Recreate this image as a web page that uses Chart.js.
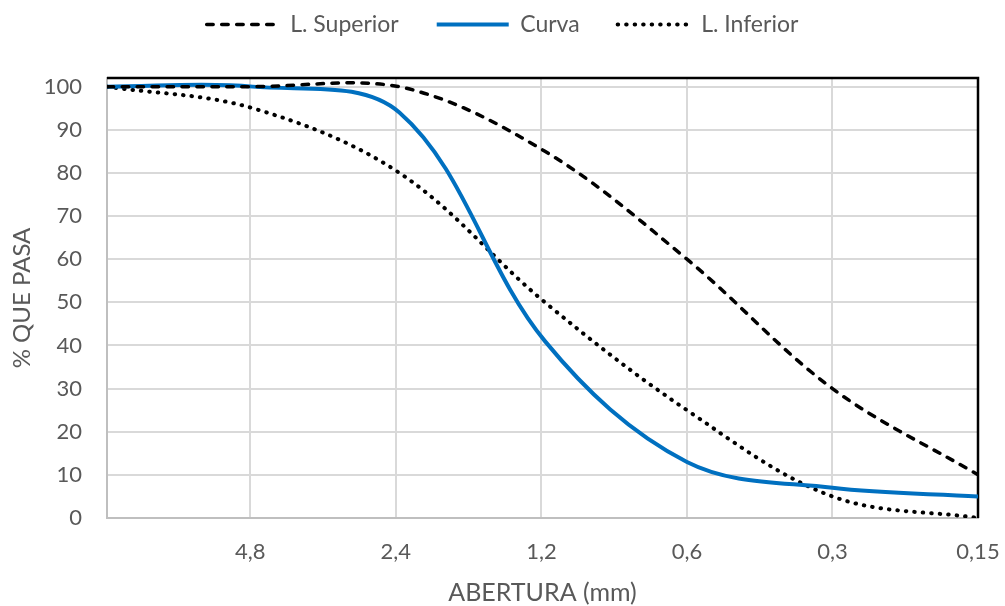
<!DOCTYPE html>
<html>
<head>
<meta charset="utf-8">
<script src="https://cdn.jsdelivr.net/npm/chart.js@4/dist/chart.umd.min.js"></script>
<style>
  html, body { margin: 0; padding: 0; background: #ffffff; }
  #wrap { width: 1005px; height: 606px; position: relative; }
</style>
</head>
<body>
<div id="wrap"><canvas id="granulometria"></canvas></div>
<script>
// Sieve openings (mm) and percentage passing for each series
const aberturas      = [9.5, 4.75, 2.36, 1.18, 0.6, 0.3, 0.15];
const limiteSuperior = [100, 100, 100, 85, 60, 30, 10];
const curva          = [100, 100, 94, 41, 13, 7, 5];
const limiteInferior = [100, 95, 80, 50, 25, 5, 0];

// Axis tick labels
const xTicks = [4.8, 2.4, 1.2, 0.6, 0.3, 0.15];
const yTicks = [0, 10, 20, 30, 40, 50, 60, 70, 80, 90, 100];

const TEXT = '#595959';
const FONT = 'Lato';

const puntos = (valores) => aberturas.map((x, i) => ({ x: x, y: valores[i] }));

// Fixed legend band height so the plot starts at the same place every time
const alturaLeyenda = {
  id: 'alturaLeyenda',
  beforeLayout(chart) {
    const lg = chart.legend;
    if (lg && !lg._alturaFija) {
      const fit = lg.fit;
      lg.fit = function () { fit.call(this); this.height = 103; };
      lg._alturaFija = true;
    }
  }
};

// Black frame on the top and right sides of the plot area
const marco = {
  id: 'marco',
  beforeDatasetsDraw(chart) {
    const { ctx, chartArea: a } = chart;
    ctx.save();
    ctx.strokeStyle = '#000000';
    ctx.lineWidth = 2.5;
    ctx.beginPath();
    ctx.moveTo(a.left, a.top);
    ctx.lineTo(a.right, a.top);
    ctx.lineTo(a.right, a.bottom);
    ctx.stroke();
    ctx.restore();
  }
};

// Legend samples use each dataset's own line style
const etiquetas = (chart) => chart.data.datasets.map((ds, i) => ({
  text: ds.label,
  datasetIndex: i,
  hidden: !chart.isDatasetVisible(i),
  fillStyle: ds.borderColor,
  strokeStyle: ds.borderColor,
  lineWidth: ds.borderWidth,
  lineDash: ds.borderDash || [],
  lineCap: ds.borderCapStyle || 'butt',
  pointStyle: 'line',
  fontColor: TEXT
}));

new Chart(document.getElementById('granulometria'), {
  type: 'line',
  data: {
    datasets: [
      {
        label: 'L. Superior',
        data: puntos(limiteSuperior),
        borderColor: '#000000',
        backgroundColor: '#000000',
        borderWidth: 3.5,
        borderDash: [6.5, 8.5],
        borderCapStyle: 'round',
        pointRadius: 0,
        tension: 0.35
      },
      {
        label: 'Curva',
        data: puntos(curva),
        borderColor: '#0070C0',
        backgroundColor: '#0070C0',
        borderWidth: 4,
        pointRadius: 0,
        tension: 0.35
      },
      {
        label: 'L. Inferior',
        data: puntos(limiteInferior),
        borderColor: '#000000',
        backgroundColor: '#000000',
        borderWidth: 4,
        borderDash: [0.5, 8],
        borderCapStyle: 'round',
        pointRadius: 0,
        tension: 0.35
      }
    ]
  },
  options: {
    responsive: true,
    maintainAspectRatio: false,
    animation: false,
    layout: { padding: { top: -25, right: 0, bottom: 0, left: 0 } },
    plugins: {
      tooltip: { enabled: false },
      legend: {
        position: 'top',
        labels: {
          usePointStyle: true,
          pointStyle: 'line',
          pointStyleWidth: 72,
          padding: 38,
          color: TEXT,
          font: { family: FONT, size: 23 },
          generateLabels: etiquetas
        }
      }
    },
    scales: {
      x: {
        type: 'logarithmic',
        reverse: true,
        min: 0.15,
        max: 9.5,
        afterBuildTicks: (s) => { s.ticks = xTicks.map(v => ({ value: v })); },
        afterFit: (s) => { s.height = 88; s.paddingLeft = 0; s.paddingRight = 27; },
        ticks: {
          autoSkip: false,
          maxRotation: 0,
          padding: 21,
          color: TEXT,
          font: { family: FONT, size: 22 },
          callback: (v) => String(v).replace('.', ',')
        },
        grid: { color: '#d9d9d9', lineWidth: 2, drawTicks: false },
        border: { color: '#bfbfbf', width: 2 },
        title: {
          display: true,
          text: 'ABERTURA (mm)',
          color: TEXT,
          font: { family: FONT, size: 25 },
          padding: { top: 0, bottom: -2 }
        }
      },
      y: {
        type: 'linear',
        min: 0,
        max: 102,
        afterBuildTicks: (s) => { s.ticks = yTicks.map(v => ({ value: v })); },
        afterFit: (s) => { s.width = 107; s.paddingTop = 0; s.paddingBottom = 0; },
        ticks: {
          padding: 25,
          color: TEXT,
          font: { family: FONT, size: 22 }
        },
        grid: { color: '#d9d9d9', lineWidth: 2, drawTicks: false },
        border: { color: '#bfbfbf', width: 2 },
        title: {
          display: true,
          text: '% QUE PASA',
          color: TEXT,
          font: { family: FONT, size: 24 },
          padding: { top: 8, bottom: 0 }
        }
      }
    }
  },
  plugins: [alturaLeyenda, marco]
});
</script>
</body>
</html>
